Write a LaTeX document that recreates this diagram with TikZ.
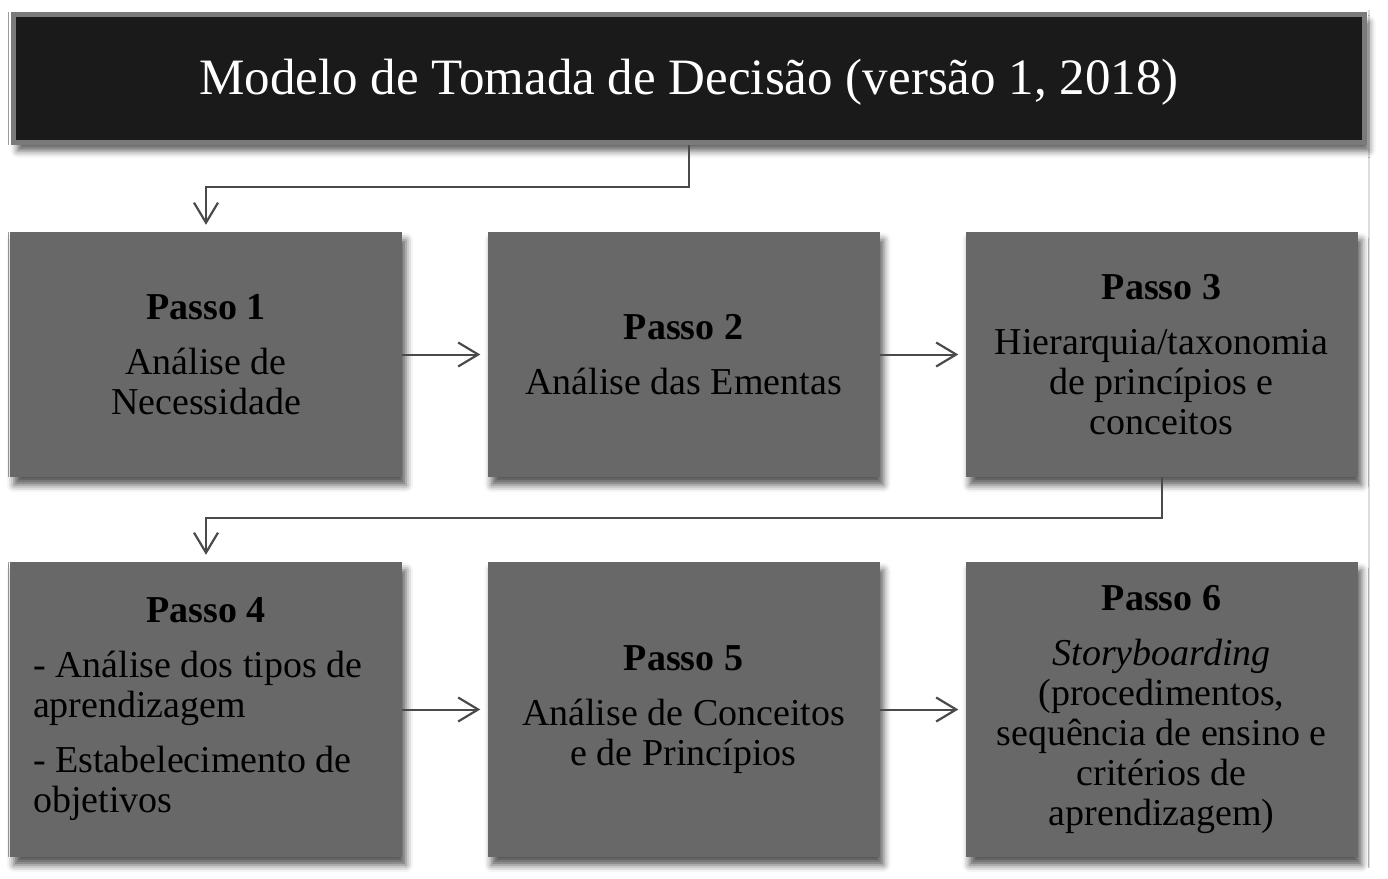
\documentclass[tikz,border=0pt]{standalone}
\usepackage{fontspec}
\setmainfont{Liberation Serif}
\usetikzlibrary{arrows.meta,shadows.blur,calc}
\definecolor{boxgray}{HTML}{686868}
\definecolor{titleblack}{HTML}{1A1A1A}
\definecolor{titleframe}{HTML}{7A7A7A}
\definecolor{linegray}{HTML}{4A4A4A}
\definecolor{edgeL}{HTML}{9A9A9A}
\definecolor{edgeR}{HTML}{DDDDDD}
\newcommand{\boxfont}{\fontsize{38}{40}\selectfont}
\begin{document}
\begin{tikzpicture}[x=1pt,y=-1pt,
  myshadow/.style={blur shadow={shadow xshift=4pt,shadow yshift=-8pt,shadow blur radius=7pt,shadow opacity=65}},
  stepbox/.style={myshadow,fill=boxgray,draw=none,minimum width=392pt,inner xsep=11pt,inner ysep=0pt,
    text width=370pt,align=flush center,font=\boxfont,text=black},
  rowone/.style={minimum height=245pt},
  rowtwo/.style={minimum height=295pt},
  titlebox/.style={myshadow,fill=titleblack,draw=titleframe,line width=5pt,minimum width=1351pt,minimum height=128pt,
    text=white,font=\fontsize{51}{56}\selectfont},
  conn/.style={draw=linegray,line width=2pt,-{Straight Barb[length=20pt,width=24pt,line width=2.2pt]}},
  elbow/.style={draw=linegray,line width=2pt,-{Straight Barb[length=20pt,width=24pt,line width=2.2pt]},shorten >=7pt}
]
\useasboundingbox (0,0) rectangle (1388,878);

% faint frame lines
\draw[edgeL,line width=1pt] (8,12) -- (8,145);
\draw[edgeL,line width=1pt] (8,232) -- (8,477);
\draw[edgeL,line width=1pt] (8,562) -- (8,857);
\draw[edgeR,line width=1.2pt] (1369,10) -- (1369,868);

\node[titlebox] (title) at (689,78.5) {\raisebox{-4pt}[\height][\depth]{Modelo de Tomada de Decisão (versão 1, 2018)}};

\node[stepbox,rowone] (b1) at (206,354.5) {\textbf{Passo 1}\\[15pt]Análise de\\Necessidade};
\node[stepbox,rowone] (b2) at (683.5,354.5) {\textbf{Passo 2}\\[15pt]Análise das Ementas};
\node[stepbox,rowone] (b3) at (1161.5,354.5) {\textbf{Passo 3}\\[15pt]Hierarquia/taxonomia\\de princípios e\\conceitos};

\node[stepbox,rowtwo] (b4) at (206,709.5) {\textbf{Passo 4}\\[15pt]\parbox[t]{346pt}{\raggedright\boxfont - Análise dos tipos de\\aprendizagem\\[15pt]- Estabelecimento de\\objetivos}};
\node[stepbox,rowtwo] (b5) at (683.5,709.5) {\textbf{Passo 5}\\[15pt]Análise de Conceitos\\e de Princípios};
\node[stepbox,rowtwo] (b6) at (1161.5,709.5) {\textbf{Passo 6}\\[15pt]\textit{Storyboarding}\\(procedimentos,\\sequência de ensino e\\critérios de\\aprendizagem)};

\draw[elbow] (title.south) -- ++(0,42) -| (b1.north);
\draw[conn,shorten >=7pt] (b1) -- (b2);
\draw[conn,shorten >=7pt] (b2) -- (b3);
\draw[elbow] (b3.south) -- ++(0,41) -| (b4.north);
\draw[conn,shorten >=7pt] (b4) -- (b5);
\draw[conn,shorten >=7pt] (b5) -- (b6);
\end{tikzpicture}
\end{document}
